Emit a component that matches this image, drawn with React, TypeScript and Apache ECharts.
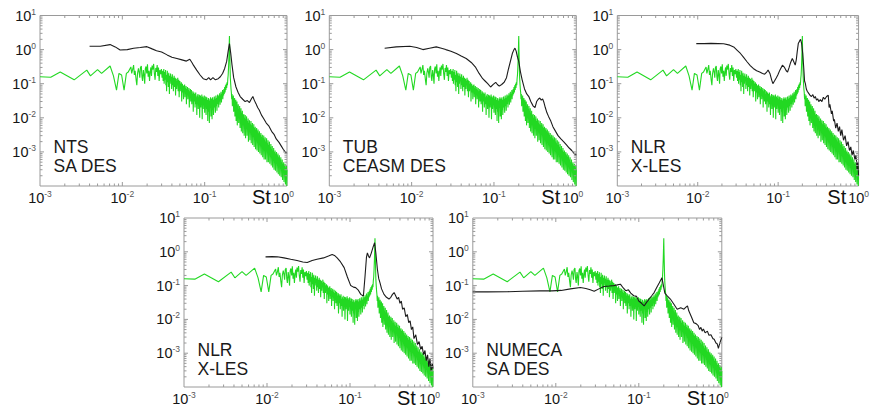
import React, { useEffect, useRef } from "react";
import * as echarts from "echarts";

// ---------- data: [St, PSD] ----------
const greenExperiment: number[][] = [
  [0.001, 0.16], [0.00135, 0.155], [0.00176, 0.22], [0.0026, 0.13], [0.0037, 0.25], [0.0041, 0.17],
  [0.005, 0.26], [0.0056, 0.2], [0.0071, 0.33], [0.0078, 0.17], [0.0085, 0.065], [0.0091, 0.2],
  [0.0098, 0.18], [0.0105, 0.065], [0.0112, 0.2], [0.0118, 0.22], [0.0127, 0.31],
  [0.013, 0.2], [0.0134, 0.27], [0.0137, 0.35], [0.014, 0.18], [0.0143, 0.24], [0.0147, 0.13],
  [0.015, 0.09], [0.0153, 0.2], [0.0157, 0.28], [0.016, 0.22], [0.0163, 0.15], [0.0166, 0.3],
  [0.017, 0.33], [0.0173, 0.16], [0.0176, 0.12], [0.018, 0.25], [0.0183, 0.19], [0.0187, 0.1],
  [0.019, 0.27], [0.0194, 0.32], [0.0198, 0.2], [0.0202, 0.37], [0.0206, 0.16], [0.021, 0.24],
  [0.0214, 0.12], [0.0218, 0.22], [0.0222, 0.3], [0.0226, 0.17], [0.023, 0.34], [0.0235, 0.26],
  [0.024, 0.38], [0.0245, 0.2], [0.025, 0.13], [0.0255, 0.29], [0.026, 0.22], [0.0265, 0.35],
  [0.027, 0.17], [0.0275, 0.3], [0.028, 0.12], [0.0286, 0.25], [0.0292, 0.19], [0.0298, 0.27],
  [0.0304, 0.15],
  [0.031, 0.24], [0.0313, 0.12], [0.0316, 0.19], [0.0319, 0.27], [0.0322, 0.1], [0.0325, 0.15],
  [0.0328, 0.22], [0.0331, 0.13], [0.0335, 0.25], [0.0338, 0.09], [0.0341, 0.18], [0.0345, 0.06],
  [0.0348, 0.15], [0.0352, 0.24], [0.0355, 0.11], [0.0359, 0.19], [0.0362, 0.08], [0.0366, 0.21],
  [0.037, 0.13], [0.0373, 0.05], [0.0377, 0.17], [0.0381, 0.1], [0.0385, 0.2], [0.0389, 0.12],
  [0.0393, 0.16], [0.0397, 0.07], [0.0401, 0.14], [0.0405, 0.19], [0.0409, 0.09], [0.0413, 0.15],
  [0.0417, 0.06], [0.0421, 0.13], [0.0426, 0.17], [0.043, 0.08], [0.0434, 0.12], [0.0439, 0.15],
  [0.0443, 0.045], [0.0448, 0.11], [0.0452, 0.14], [0.0457, 0.07], [0.0461, 0.12], [0.0466, 0.09],
  [0.0471, 0.15], [0.0476, 0.06], [0.048, 0.1], [0.0485, 0.13], [0.049, 0.04], [0.0495, 0.09],
  [0.05, 0.12], [0.0505, 0.06], [0.051, 0.1], [0.0516, 0.075], [0.0521, 0.11], [0.0526, 0.03],
  [0.0532, 0.08], [0.0537, 0.1], [0.0542, 0.055], [0.0548, 0.085], [0.0554, 0.035], [0.0559, 0.09],
  [0.0565, 0.065], [0.0571, 0.095], [0.0576, 0.04], [0.0582, 0.075], [0.0588, 0.055], [0.0594, 0.085],
  [0.06, 0.025], [0.0606, 0.07], [0.0613, 0.05], [0.0619, 0.08], [0.0625, 0.035], [0.0631, 0.065],
  [0.0638, 0.045], [0.0644, 0.075], [0.0651, 0.02], [0.0657, 0.06], [0.0664, 0.04], [0.0671, 0.07],
  [0.0677, 0.03], [0.0684, 0.055], [0.0691, 0.065], [0.0698, 0.025], [0.0705, 0.05], [0.0712, 0.035],
  [0.0719, 0.06], [0.0727, 0.015], [0.0734, 0.045], [0.0741, 0.055], [0.0749, 0.03], [0.0756, 0.05],
  [0.0764, 0.02], [0.0772, 0.045], [0.0779, 0.055], [0.0787, 0.025], [0.0795, 0.04], [0.0803, 0.012],
  [0.0811, 0.045], [0.0819, 0.03], [0.0828, 0.05], [0.0836, 0.018], [0.0844, 0.04], [0.0853, 0.028],
  [0.0861, 0.047], [0.087, 0.01], [0.0879, 0.035], [0.0888, 0.045], [0.0897, 0.02], [0.0906, 0.04],
  [0.0915, 0.028], [0.0924, 0.048], [0.0933, 0.009], [0.0942, 0.032], [0.0952, 0.042], [0.0961, 0.018],
  [0.0971, 0.038], [0.0981, 0.026], [0.099, 0.045], [0.1, 0.014],
  [0.101, 0.035], [0.102, 0.022], [0.103, 0.042], [0.104, 0.012], [0.105, 0.03], [0.106, 0.04],
  [0.107, 0.018], [0.108, 0.033], [0.109, 0.008], [0.11, 0.028], [0.111, 0.038], [0.112, 0.015],
  [0.113, 0.032], [0.114, 0.007], [0.115, 0.025], [0.116, 0.036], [0.117, 0.02], [0.118, 0.04],
  [0.119, 0.011], [0.12, 0.03], [0.121, 0.022], [0.122, 0.037], [0.123, 0.009], [0.124, 0.028],
  [0.125, 0.04], [0.126, 0.017], [0.127, 0.034], [0.128, 0.012], [0.13, 0.03], [0.131, 0.042],
  [0.132, 0.02], [0.133, 0.036], [0.135, 0.014], [0.136, 0.032], [0.137, 0.045], [0.138, 0.022],
  [0.14, 0.038], [0.141, 0.016], [0.142, 0.035], [0.144, 0.048], [0.145, 0.025], [0.147, 0.04],
  [0.148, 0.02], [0.149, 0.045], [0.151, 0.03], [0.152, 0.052], [0.154, 0.024], [0.155, 0.045],
  [0.157, 0.035], [0.158, 0.058], [0.16, 0.028], [0.161, 0.05], [0.163, 0.04], [0.165, 0.065],
  [0.166, 0.035], [0.168, 0.058], [0.17, 0.045], [0.171, 0.07], [0.173, 0.05], [0.175, 0.08],
  [0.177, 0.055], [0.179, 0.09], [0.181, 0.065], [0.183, 0.1], [0.185, 0.075], [0.187, 0.11],
  [0.189, 0.09], [0.191, 0.14], [0.193, 0.18], [0.195, 0.3], [0.197, 0.6], [0.199, 1.6], [0.2, 2.5],
  [0.201, 1.2], [0.203, 0.4], [0.205, 0.15], [0.207, 0.1], [0.209, 0.07], [0.211, 0.055],
  [0.213, 0.035], [0.215, 0.05], [0.217, 0.022], [0.219, 0.04], [0.221, 0.03], [0.223, 0.045],
  [0.225, 0.015], [0.227, 0.035], [0.229, 0.025], [0.231, 0.038], [0.233, 0.011], [0.235, 0.03],
  [0.237, 0.02], [0.239, 0.034], [0.241, 0.008], [0.243, 0.026], [0.245, 0.016], [0.247, 0.03],
  [0.249, 0.006], [0.252, 0.022], [0.254, 0.014], [0.256, 0.025], [0.259, 0.007], [0.261, 0.018],
  [0.264, 0.012], [0.266, 0.022], [0.269, 0.005], [0.271, 0.016], [0.274, 0.01], [0.276, 0.019],
  [0.279, 0.004], [0.282, 0.014], [0.284, 0.008], [0.287, 0.016], [0.29, 0.0035], [0.293, 0.012],
  [0.296, 0.007], [0.299, 0.013], [0.302, 0.003], [0.305, 0.01], [0.308, 0.006], [0.311, 0.012],
  [0.314, 0.0025], [0.317, 0.009], [0.32, 0.0055], [0.323, 0.011], [0.327, 0.003], [0.33, 0.008],
  [0.333, 0.005], [0.337, 0.0095], [0.34, 0.002], [0.343, 0.007], [0.347, 0.0045], [0.35, 0.0085],
  [0.354, 0.0022], [0.357, 0.0065], [0.361, 0.004], [0.365, 0.008], [0.368, 0.0018], [0.372, 0.006],
  [0.376, 0.0035], [0.38, 0.007], [0.383, 0.0016], [0.387, 0.0055], [0.391, 0.003], [0.395, 0.0065],
  [0.399, 0.0014], [0.403, 0.005], [0.407, 0.0028], [0.411, 0.0055], [0.415, 0.0012], [0.42, 0.0045],
  [0.424, 0.0025], [0.428, 0.005], [0.432, 0.0011], [0.437, 0.004], [0.441, 0.0022], [0.445, 0.0045],
  [0.45, 0.001], [0.454, 0.0035], [0.459, 0.002], [0.463, 0.004], [0.468, 0.0009], [0.473, 0.0032],
  [0.477, 0.0018], [0.482, 0.0036], [0.487, 0.0008], [0.492, 0.0028], [0.497, 0.0016], [0.502, 0.0032],
  [0.507, 0.0007], [0.512, 0.0025], [0.517, 0.0014], [0.522, 0.003], [0.527, 0.0006], [0.532, 0.0023],
  [0.538, 0.0013], [0.543, 0.0027], [0.548, 0.0006], [0.554, 0.002], [0.559, 0.0011], [0.565, 0.0025],
  [0.571, 0.0005], [0.576, 0.0018], [0.582, 0.001], [0.588, 0.0022], [0.594, 0.0005], [0.6, 0.0016],
  [0.606, 0.0009], [0.612, 0.002], [0.618, 0.00045], [0.624, 0.0014], [0.63, 0.0008], [0.637, 0.0017],
  [0.643, 0.0004], [0.649, 0.0012], [0.656, 0.0007], [0.662, 0.0015], [0.669, 0.00035], [0.676, 0.0011],
  [0.682, 0.0006], [0.689, 0.0013], [0.696, 0.0003], [0.703, 0.001], [0.71, 0.00055], [0.717, 0.0011],
  [0.724, 0.00028], [0.732, 0.0009], [0.739, 0.0005], [0.746, 0.001], [0.754, 0.00025], [0.761, 0.0008],
  [0.769, 0.00045], [0.777, 0.0009], [0.784, 0.00022], [0.792, 0.0007], [0.8, 0.0004], [0.808, 0.0008],
  [0.816, 0.0002], [0.825, 0.0006], [0.833, 0.00035], [0.841, 0.0007], [0.85, 0.00018], [0.858, 0.0005],
  [0.867, 0.0003], [0.875, 0.0006], [0.884, 0.00015], [0.893, 0.00045], [0.902, 0.00025], [0.911, 0.0005],
  [0.92, 0.00013], [0.929, 0.0004], [0.938, 0.00022], [0.948, 0.00045], [0.957, 0.00011], [0.967, 0.00035],
  [0.976, 0.0002], [0.986, 0.0004], [0.993, 0.0001], [1.0, 0.0003],
];

const ntsSaDes: number[][] = [
  [0.004, 1.25], [0.0054, 1.25], [0.0071, 1.4], [0.0082, 1.2], [0.0094, 0.97], [0.0115, 1.0],
  [0.0137, 1.1], [0.0165, 1.15], [0.0199, 1.22], [0.023, 1.05], [0.026, 0.93], [0.03, 0.85],
  [0.035, 0.7], [0.04, 0.6], [0.046, 0.55], [0.053, 0.5], [0.06, 0.46], [0.066, 0.52], [0.07, 0.42],
  [0.073, 0.35], [0.08, 0.25], [0.088, 0.18], [0.096, 0.14], [0.105, 0.13], [0.112, 0.15],
  [0.118, 0.13], [0.126, 0.15], [0.135, 0.13], [0.146, 0.14], [0.155, 0.16], [0.165, 0.2],
  [0.175, 0.28], [0.185, 0.45], [0.193, 0.9], [0.2, 1.5], [0.207, 0.8], [0.215, 0.35], [0.225, 0.15],
  [0.24, 0.08], [0.255, 0.055], [0.27, 0.042], [0.29, 0.035], [0.31, 0.03], [0.33, 0.032],
  [0.35, 0.028], [0.37, 0.036], [0.385, 0.042], [0.4, 0.033], [0.42, 0.026], [0.44, 0.02],
  [0.46, 0.017], [0.49, 0.012], [0.52, 0.0095], [0.56, 0.007], [0.6, 0.0058], [0.65, 0.004],
  [0.7, 0.0032], [0.74, 0.0024], [0.8, 0.0019], [0.85, 0.0015], [0.9, 0.0012], [0.95, 0.001], [1.0, 0.0009],
];

const tubCeasmDes: number[][] = [
  [0.0047, 1.1], [0.0065, 1.2], [0.0095, 1.25], [0.0115, 1.15], [0.0137, 1.0], [0.0165, 1.1],
  [0.0199, 1.2], [0.023, 1.1], [0.026, 1.0], [0.03, 0.9], [0.035, 0.77], [0.04, 0.65], [0.046, 0.55],
  [0.053, 0.42], [0.06, 0.3], [0.066, 0.2], [0.073, 0.14], [0.078, 0.12], [0.084, 0.1], [0.091, 0.08],
  [0.098, 0.095], [0.105, 0.11], [0.11, 0.095], [0.116, 0.085], [0.124, 0.095], [0.133, 0.11],
  [0.142, 0.15], [0.15, 0.27], [0.16, 0.5], [0.168, 0.8], [0.175, 1.0], [0.18, 1.1], [0.186, 0.9],
  [0.193, 0.6], [0.2, 0.45], [0.21, 0.22], [0.22, 0.13], [0.235, 0.07], [0.25, 0.05], [0.265, 0.042],
  [0.28, 0.03], [0.3, 0.022], [0.315, 0.02], [0.33, 0.03], [0.345, 0.035], [0.36, 0.038],
  [0.375, 0.033], [0.39, 0.036], [0.405, 0.028], [0.42, 0.02], [0.44, 0.014], [0.46, 0.011],
  [0.49, 0.008], [0.52, 0.0055], [0.56, 0.004], [0.6, 0.003], [0.65, 0.0024], [0.7, 0.002],
  [0.76, 0.0016], [0.82, 0.0013], [0.88, 0.0011], [0.94, 0.0009], [1.0, 0.0008],
];

const nlrXlesTop: number[][] = [
  [0.0096, 1.5], [0.012, 1.5], [0.0146, 1.52], [0.018, 1.5], [0.021, 1.48], [0.025, 1.35],
  [0.028, 1.2], [0.031, 0.95], [0.034, 0.77], [0.037, 0.6], [0.041, 0.44], [0.045, 0.34],
  [0.049, 0.28], [0.054, 0.24], [0.059, 0.22], [0.064, 0.2], [0.068, 0.19], [0.072, 0.22],
  [0.075, 0.25], [0.079, 0.2], [0.083, 0.13], [0.086, 0.1], [0.09, 0.12], [0.095, 0.15],
  [0.099, 0.18], [0.105, 0.25], [0.113, 0.35], [0.12, 0.3], [0.126, 0.24], [0.131, 0.22],
  [0.137, 0.3], [0.143, 0.42], [0.15, 0.55], [0.156, 0.45], [0.163, 0.35], [0.168, 0.5],
  [0.173, 0.9], [0.178, 1.5], [0.185, 1.8], [0.19, 2.0], [0.196, 1.5], [0.202, 0.77], [0.208, 0.3],
  [0.213, 0.12], [0.218, 0.1], [0.224, 0.07], [0.23, 0.06], [0.24, 0.052], [0.25, 0.045],
  [0.26, 0.042], [0.27, 0.048], [0.28, 0.038], [0.29, 0.042], [0.3, 0.033], [0.31, 0.036],
  [0.32, 0.03], [0.335, 0.034], [0.35, 0.03], [0.365, 0.04], [0.38, 0.035], [0.4, 0.042],
  [0.42, 0.046], [0.43, 0.02], [0.44, 0.025], [0.46, 0.013], [0.47, 0.016], [0.49, 0.008],
  [0.5, 0.009], [0.52, 0.005], [0.54, 0.007], [0.56, 0.004], [0.58, 0.0055], [0.6, 0.003],
  [0.62, 0.0045], [0.65, 0.0022], [0.68, 0.003], [0.71, 0.0015], [0.74, 0.002], [0.77, 0.0011],
  [0.8, 0.0014], [0.83, 0.0008], [0.86, 0.0011], [0.9, 0.0006], [0.93, 0.0008], [0.96, 0.0003],
  [0.98, 0.0005], [1.0, 0.0002],
];

const nlrXlesBottom: number[][] = [
  [0.0096, 0.71], [0.0115, 0.72], [0.0133, 0.71], [0.016, 0.66], [0.0193, 0.6], [0.023, 0.55],
  [0.027, 0.5], [0.0305, 0.48], [0.035, 0.55], [0.04, 0.6], [0.048, 0.66], [0.055, 0.75],
  [0.061, 0.83], [0.065, 0.78], [0.07, 0.66], [0.077, 0.5], [0.085, 0.34], [0.093, 0.18],
  [0.102, 0.1], [0.11, 0.09], [0.117, 0.087], [0.125, 0.075], [0.135, 0.055], [0.145, 0.049],
  [0.152, 0.2], [0.158, 0.7], [0.162, 0.93], [0.167, 0.75], [0.172, 0.66], [0.18, 0.9], [0.19, 1.4],
  [0.198, 1.85], [0.205, 0.9], [0.214, 0.3], [0.222, 0.16], [0.23, 0.12], [0.24, 0.08],
  [0.257, 0.055], [0.275, 0.045], [0.295, 0.04], [0.31, 0.045], [0.325, 0.055], [0.34, 0.062],
  [0.355, 0.05], [0.37, 0.04], [0.385, 0.045], [0.4, 0.03], [0.415, 0.035], [0.43, 0.02],
  [0.45, 0.022], [0.47, 0.012], [0.49, 0.014], [0.51, 0.008], [0.53, 0.009], [0.55, 0.005],
  [0.57, 0.006], [0.59, 0.0027], [0.62, 0.0035], [0.65, 0.0018], [0.68, 0.0022], [0.71, 0.0013],
  [0.74, 0.0016], [0.77, 0.0009], [0.8, 0.0012], [0.83, 0.0006], [0.86, 0.0009], [0.89, 0.0004],
  [0.92, 0.0007], [0.95, 0.0003], [0.98, 0.0005], [1.0, 0.00035],
];

const numecaSaDes: number[][] = [
  [0.001, 0.065], [0.0015, 0.065], [0.0026, 0.066], [0.004, 0.068], [0.0065, 0.07], [0.009, 0.07],
  [0.0116, 0.072], [0.015, 0.08], [0.0198, 0.088], [0.023, 0.082], [0.026, 0.075], [0.029, 0.068],
  [0.033, 0.08], [0.038, 0.094], [0.044, 0.097], [0.05, 0.1], [0.055, 0.105], [0.06, 0.11],
  [0.065, 0.085], [0.07, 0.07], [0.075, 0.075], [0.08, 0.06], [0.087, 0.05], [0.094, 0.048],
  [0.1, 0.035], [0.108, 0.03], [0.116, 0.025], [0.124, 0.032], [0.133, 0.04], [0.143, 0.05],
  [0.153, 0.062], [0.165, 0.09], [0.176, 0.12], [0.19, 0.17], [0.198, 0.1], [0.206, 0.06],
  [0.22, 0.05], [0.24, 0.04], [0.26, 0.03], [0.29, 0.02], [0.32, 0.022], [0.35, 0.02], [0.37, 0.023],
  [0.386, 0.025], [0.4, 0.018], [0.43, 0.012], [0.46, 0.008], [0.49, 0.0075], [0.52, 0.0065],
  [0.54, 0.005], [0.56, 0.0058], [0.58, 0.0045], [0.6, 0.0052], [0.63, 0.004], [0.67, 0.0045],
  [0.7, 0.0034], [0.74, 0.0035], [0.78, 0.0027], [0.81, 0.0026], [0.85, 0.002], [0.88, 0.0019],
  [0.91, 0.0014], [0.93, 0.0017], [0.96, 0.0022], [1.0, 0.003],
];

const panelLabels = ["NTS\nSA DES", "TUB\nCEASM DES", "NLR\nX-LES", "NLR\nX-LES", "NUMECA\nSA DES"];
const panelBlack = [ntsSaDes, tubCeasmDes, nlrXlesTop, nlrXlesBottom, numecaSaDes];
const xDecades = [-3, -2, -1, 0];
const yDecades = [-4, -3, -2, -1, 0, 1];
const minorMultipliers = [2, 3, 4, 5, 6, 7, 8, 9];

// ---------- layout ----------
const boxes = [
  { left: 40, top: 15.5, width: 247, height: 170.5, stGap: 35, lastPad: 7 },
  { left: 329.3, top: 15.5, width: 247, height: 170.5, stGap: 35, lastPad: 7 },
  { left: 617.3, top: 15.5, width: 247, height: 170.5, stGap: 37, lastPad: 0 },
  { left: 184, top: 218, width: 249, height: 169, stGap: 36, lastPad: 7 },
  { left: 472.8, top: 218, width: 249, height: 169, stGap: 35, lastPad: 7 },
];

const FONT = "'Liberation Sans', Arial, Helvetica, sans-serif";
const GREEN = "#22d822";
const FRAME = "#9a9a9a";

function buildTicks(): number[][] {
  const out: number[][] = [];
  for (const d of yDecades) {
    const base = Math.pow(10, d);
    if (d > -4 && d < 1) out.push([1e-3, base, 0]);
    if (d < 1) for (const m of minorMultipliers) out.push([1e-3, base * m, 0]);
  }
  for (const d of xDecades) {
    const base = Math.pow(10, d);
    if (d > -3 && d < 0) out.push([base, 1e-4, 1]);
    if (d < 0) for (const m of minorMultipliers) out.push([base * m, 1e-4, 1]);
  }
  return out;
}

function isMajor(v: number) {
  const l = Math.log10(v);
  return Math.abs(l - Math.round(l)) < 1e-6;
}

export default function App() {
  const ref = useRef<HTMLDivElement>(null);
  useEffect(() => {
    if (!ref.current) return;
    const chart = echarts.init(ref.current, null, { renderer: "svg" });
    const ticks = buildTicks();

    const makeRich = (pad: number) => ({
      b: { fontSize: 14.5, fontFamily: FONT, color: "#151515", lineHeight: 17 },
      e: { fontSize: 8.5, fontFamily: FONT, color: "#555", verticalAlign: "top", lineHeight: 10 },
      eL: { fontSize: 8.5, fontFamily: FONT, color: "#555", verticalAlign: "top", lineHeight: 10, padding: [0, pad, 0, 0] },
    });

    const grids: any[] = [];
    const xAxes: any[] = [];
    const yAxes: any[] = [];
    const series: any[] = [];
    const graphics: any[] = [];

    boxes.forEach((b, i) => {
      const rich = makeRich(b.lastPad);
      grids.push({
        left: b.left, top: b.top, width: b.width, height: b.height,
        show: true, borderColor: FRAME, borderWidth: 1, backgroundColor: "transparent",
      });
      xAxes.push({
        type: "log", logBase: 10, gridIndex: i, min: 1e-3, max: 1, splitNumber: 3,
        axisLine: { show: false }, axisTick: { show: false }, splitLine: { show: false },
        axisLabel: {
          margin: 3, fontSize: 14.5, fontFamily: FONT, color: "#151515",
          formatter: (v: number) => {
            const e = Math.round(Math.log10(v));
            return e === 0 ? `{b|10}{eL|${e}}` : `{b|10}{e|${e}}`;
          },
          rich,
        },
      });
      yAxes.push({
        type: "log", logBase: 10, gridIndex: i, min: 1e-4, max: 10, splitNumber: 5,
        axisLine: { show: false }, axisTick: { show: false }, splitLine: { show: false },
        axisLabel: {
          margin: 4, fontSize: 14.5, fontFamily: FONT, color: "#151515",
          formatter: (v: number) => {
            const e = Math.round(Math.log10(v));
            return e === -4 ? "" : `{b|10}{e|${e}}`;
          },
          rich,
        },
      });
      series.push({
        type: "line", xAxisIndex: i, yAxisIndex: i, data: greenExperiment,
        showSymbol: false, symbol: "none", clip: true,
        lineStyle: { color: GREEN, width: 1.1 }, z: 2,
      });
      series.push({
        type: "line", xAxisIndex: i, yAxisIndex: i, data: panelBlack[i],
        showSymbol: false, symbol: "none", clip: true,
        lineStyle: { color: "#1c1c1c", width: 1.1 }, z: 3,
      });
      series.push({
        type: "custom", xAxisIndex: i, yAxisIndex: i, data: ticks, clip: false, z: 4,
        silent: true,
        renderItem: (_p: any, api: any) => {
          const x = api.value(0), y = api.value(1), kind = api.value(2);
          const style = { stroke: FRAME, lineWidth: 1 };
          if (kind === 0) {
            const len = isMajor(y) ? 4 : 2.5;
            const pl = api.coord([1e-3, y]);
            const pr = api.coord([1, y]);
            return {
              type: "group",
              children: [
                { type: "line", shape: { x1: pl[0], y1: pl[1], x2: pl[0] + len, y2: pl[1] }, style },
                { type: "line", shape: { x1: pr[0], y1: pr[1], x2: pr[0] - len, y2: pr[1] }, style },
              ],
            };
          }
          const len = isMajor(x) ? 4 : 2.5;
          const pb = api.coord([x, 1e-4]);
          const pt = api.coord([x, 10]);
          return {
            type: "group",
            children: [
              { type: "line", shape: { x1: pb[0], y1: pb[1], x2: pb[0], y2: pb[1] - len }, style },
              { type: "line", shape: { x1: pt[0], y1: pt[1], x2: pt[0], y2: pt[1] + len }, style },
            ],
          };
        },
      });
      graphics.push({
        type: "text", left: b.left + 13.5, top: b.top + 122,
        style: { text: panelLabels[i], font: `17.5px ${FONT}`, fill: "#1a1a1a", lineHeight: 19 },
      });
      graphics.push({
        type: "text", left: b.left + b.width - b.stGap, top: b.top + b.height + 1,
        style: { text: "St", font: `20px ${FONT}`, fill: "#111" },
      });
    });

    chart.setOption({
      animation: false,
      backgroundColor: "#ffffff",
      grid: grids,
      xAxis: xAxes,
      yAxis: yAxes,
      series,
      graphic: graphics,
    });
    return () => chart.dispose();
  }, []);

  return (
    <div
      ref={ref}
      style={{ position: "absolute", left: 0, top: 0, width: 872, height: 409 }}
    />
  );
}
